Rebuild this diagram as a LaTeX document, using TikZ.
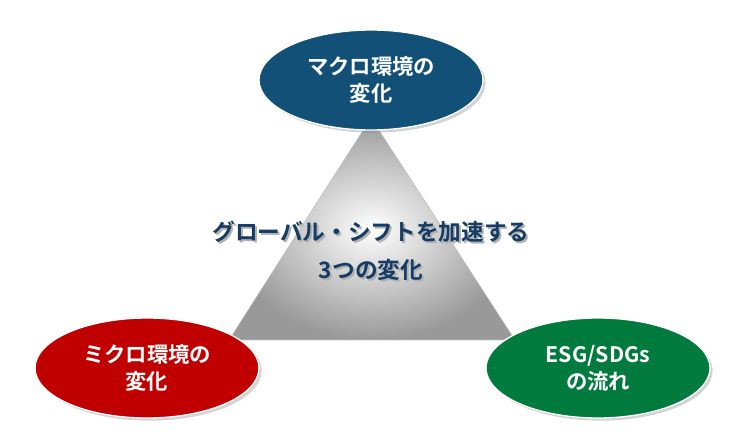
\documentclass[tikz,border=0pt]{standalone}
\usepackage{fontspec}
\newfontfamily\jpfont[BoldFont={Noto Sans CJK JP Bold}]{Noto Sans CJK JP}
\definecolor{macroblue}{RGB}{18,80,120}
\definecolor{microred}{RGB}{192,0,0}
\definecolor{esggreen}{RGB}{0,122,61}
\definecolor{titleblue}{RGB}{20,60,100}
\tikzset{
  change/.style={ellipse, minimum width=168pt, minimum height=75pt, text=white,
    font=\jpfont\bfseries\fontsize{16}{20}\selectfont, align=center,
    draw=white, line width=1pt, drop shadow={opacity=.35, shadow xshift=2pt, shadow yshift=-2pt}},
  title/.style={font=\jpfont\bfseries\fontsize{17}{21}\selectfont, text=titleblue}
}
\usetikzlibrary{shapes.geometric,shadows}
\begin{document}
\begin{tikzpicture}[x=0.75pt,y=-0.75pt]
  \useasboundingbox (0,0) rectangle (736,445);
  % triangle
  \shade[inner color=white, outer color=gray!80, draw=gray!50]
    (371,118) -- (515,340) -- (229,340) -- cycle;
  \node[change, fill=macroblue] (macro) at (371,80) {マクロ環境の\\変化};
  \node[change, fill=microred] (micro) at (147,368) {ミクロ環境の\\変化};
  \node[change, fill=esggreen] (esg) at (598,368) {ESG/SDGs\\の流れ};
  % center text
  \node[title, text=gray!60] at (373,234) {グローバル・シフトを加速する};
  \node[title] (line1) at (371,232) {グローバル・シフトを加速する};
  \node[title, text=gray!60] at (373,272) {3つの変化};
  \node[title] (line2) at (371,270) {3つの変化};
\end{tikzpicture}
\end{document}
